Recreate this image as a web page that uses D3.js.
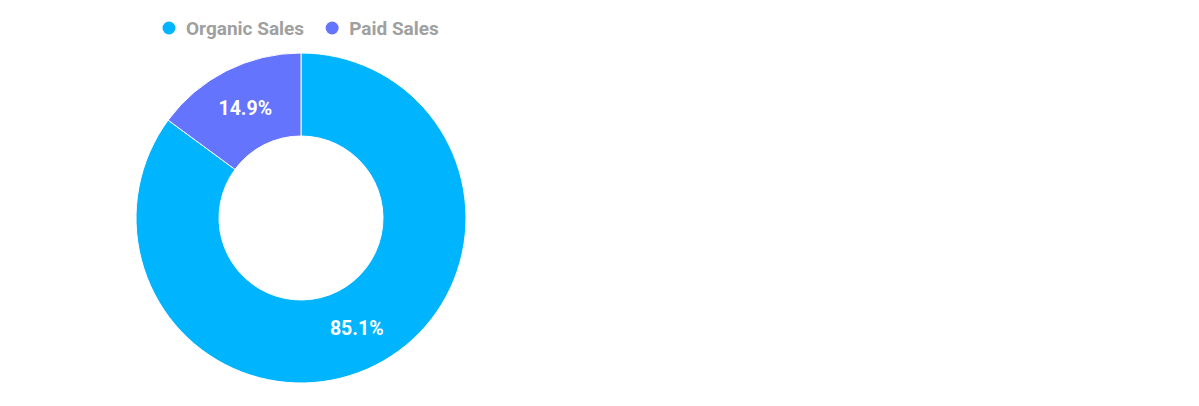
<!DOCTYPE html>
<html>
<head>
<meta charset="utf-8">
<script src="https://cdn.jsdelivr.net/npm/d3@7"></script>
<style>
    body { margin: 0; background: #fff; }
    svg { display: block; font-family: Roboto, "Noto Sans", sans-serif; }
</style>
</head>
<body>
<div id="chart"></div>
<script>
const categories = ['Organic Sales', 'Paid Sales'];
const shares = [85.1, 14.9];
const colors = ['#00b4fe', '#6474fc'];

const width = 1199;
const height = 406;
const cx = 301, cy = 218;
const outerRadius = 165;
const innerRadius = 82;

const svg = d3.select('#chart').append('svg')
    .attr('width', width)
    .attr('height', height);

const pie = d3.pie().sort(null).value(d => d.value);
const arc = d3.arc().innerRadius(innerRadius).outerRadius(outerRadius);

const data = categories.map((c, i) => ({ name: c, value: shares[i], color: colors[i] }));

const g = svg.append('g').attr('transform', `translate(${cx},${cy})`);

g.selectAll('path')
    .data(pie(data))
    .enter()
    .append('path')
    .attr('d', arc)
    .attr('fill', d => d.data.color)
    .attr('stroke', '#fff')
    .attr('stroke-width', 1);

g.selectAll('text')
    .data(pie(data))
    .enter()
    .append('text')
    .attr('transform', d => `translate(${arc.centroid(d)})`)
    .attr('text-anchor', 'middle')
    .attr('dy', '0.36em')
    .attr('fill', '#fff')
    .style('font-size', '19.5px')
    .style('font-weight', 'bold')
    .text(d => d.data.value.toFixed(1) + '%');

// legend
const legend = svg.append('g').attr('transform', 'translate(169,28)');
let x = 0;
data.forEach(d => {
    const item = legend.append('g').attr('transform', `translate(${x},0)`);
    item.append('circle').attr('r', 6.5).attr('fill', d.color);
    const t = item.append('text')
        .attr('x', 17)
        .attr('dy', '0.36em')
        .attr('fill', '#a0a0a0')
        .style('font-size', '19px')
        .style('font-weight', 'bold')
        .text(d.name);
    x += 17 + t.node().getComputedTextLength() + 28;
});
</script>
</body>
</html>
